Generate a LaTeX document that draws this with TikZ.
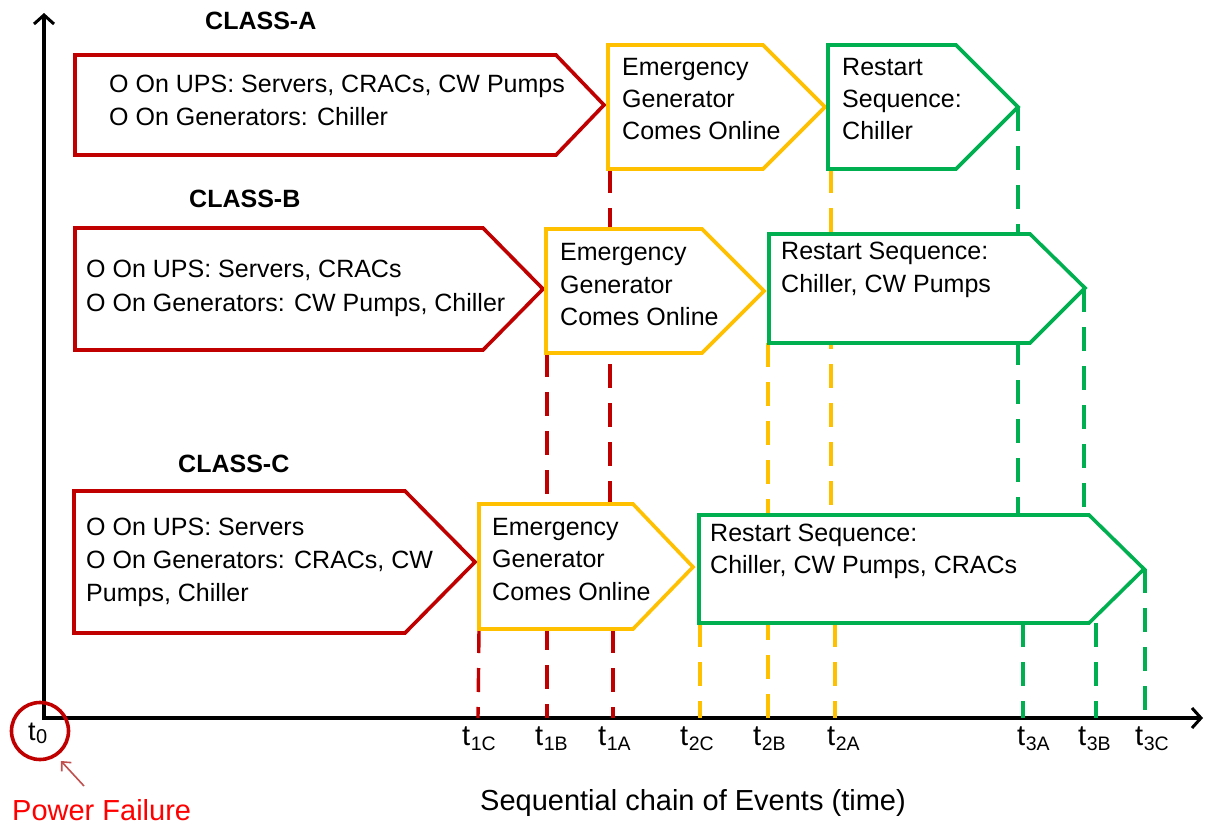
\documentclass[tikz,border=0pt]{standalone}
\usepackage{fontspec}
\setmainfont{Liberation Sans}
\usetikzlibrary{arrows.meta}
\definecolor{boxred}{HTML}{C00000}
\definecolor{boxyellow}{HTML}{FFC000}
\definecolor{boxgreen}{HTML}{00B050}
\definecolor{pfred}{HTML}{FF0000}
\definecolor{pointer}{HTML}{C0504D}
\newcommand{\tsub}[1]{t\kern0.5pt\raisebox{-5pt}{\fontsize{19.5}{20}\selectfont #1}}
\begin{document}
\begin{tikzpicture}[x=1pt,y=-1pt,
  chev/.style={line width=3.6pt, fill=white, line join=miter},
  guide/.style={line width=3.4pt, dash pattern=on 24pt off 15pt},
  txt/.style={font=\fontsize{25}{30}\selectfont, anchor=base west, inner sep=0pt},
  classlbl/.style={font=\fontsize{25}{30}\selectfont\bfseries, anchor=base west, inner sep=0pt},
  ticklbl/.style={font=\fontsize{29}{30}\selectfont, anchor=base west, inner sep=0pt},
  axis/.style={line width=3.4pt, {Straight Barb[length=9pt,width=20pt,line width=3pt]}-{Straight Barb[length=9pt,width=20pt,line width=3pt]}}]
\useasboundingbox (0,0) rectangle (1210,827);

% time axes
\coordinate (ytop) at (44,13);
\coordinate (origin) at (44,718);
\coordinate (xend) at (1203,718);
\draw[axis] (ytop) -- (origin) -- (xend);

% event guides down to the time axis
\begin{scope}[guide]
  \draw[boxred] (479,629) -- (478,718);
  \draw[boxred] (547,353) -- (547,718);
  \draw[boxred] (610,169) -- (610,504);
  \draw[boxred] (613,629) -- (613,718);
  \draw[boxyellow] (700,623) -- (700,718);
  \draw[boxyellow] (768,343) -- (768,718);
  \draw[boxyellow] (831,169) -- (831,515);
  \draw[boxyellow] (835,623) -- (835,718);
  \draw[boxgreen] (1018,107) -- (1018,515);
  \draw[boxgreen] (1023,623) -- (1023,718);
  \draw[boxgreen] (1084,288) -- (1084,515);
  \draw[boxgreen] (1096,623) -- (1096,718);
  \draw[boxgreen] (1145,569) -- (1145,718);
\end{scope}

% CLASS-A
\node[classlbl] (clA) at (205,29) {CLASS-A};
\draw[chev, draw=boxred] (75,55) -- (556,55) -- (604,105) -- (556,155) -- (75,155) -- cycle;
\draw[chev, draw=boxyellow] (608,45) -- (763,45) -- (825,107) -- (763,169) -- (608,169) -- cycle;
\draw[chev, draw=boxgreen] (828,45) -- (956,45) -- (1018,107) -- (956,169) -- (828,169) -- cycle;
\node[txt] (rA1) at (109,92) {O On UPS: Servers, CRACs, CW Pumps};
\node[txt] (rA2) at (109,125) {O On Generators: Chiller};
\node[txt] (yA1) at (622,75) {Emergency};
\node[txt] (yA2) at (622,107) {Generator};
\node[txt] (yA3) at (622,139) {Comes Online};
\node[txt] (gA1) at (842,75) {Restart};
\node[txt] (gA2) at (842,107) {Sequence:};
\node[txt] (gA3) at (842,139) {Chiller};

% CLASS-B
\node[classlbl] (clB) at (189,207) {CLASS-B};
\draw[chev, draw=boxred] (75,228) -- (483,228) -- (543,289) -- (483,350) -- (75,350) -- cycle;
\draw[chev, draw=boxyellow] (546,229) -- (702,229) -- (764,291) -- (702,353) -- (546,353) -- cycle;
\draw[chev, draw=boxgreen] (769,234) -- (1030,234) -- (1085,288) -- (1030,343) -- (769,343) -- cycle;
\node[txt] (rB1) at (86,277) {O On UPS: Servers, CRACs};
\node[txt] (rB2) at (86,311) {O On Generators: CW Pumps, Chiller};
\node[txt] (yB1) at (560,260) {Emergency};
\node[txt] (yB2) at (560,293) {Generator};
\node[txt] (yB3) at (560,325) {Comes Online};
\node[txt] (gB1) at (781,259) {Restart Sequence:};
\node[txt] (gB2) at (781,292) {Chiller, CW Pumps};

% CLASS-C
\node[classlbl] (clC) at (178,472) {CLASS-C};
\draw[chev, draw=boxred] (74,491) -- (405,491) -- (475,562) -- (405,633) -- (74,633) -- cycle;
\draw[chev, draw=boxyellow] (479,504) -- (633,504) -- (693,567) -- (633,629) -- (479,629) -- cycle;
\draw[chev, draw=boxgreen] (699,515) -- (1089,515) -- (1144,569) -- (1089,623) -- (699,623) -- cycle;
\node[txt] (rC1) at (86,535) {O On UPS: Servers};
\node[txt] (rC2) at (86,568) {O On Generators: CRACs, CW};
\node[txt] (rC3) at (86,601) {Pumps, Chiller};
\node[txt] (yC1) at (492,535) {Emergency};
\node[txt] (yC2) at (492,567) {Generator};
\node[txt] (yC3) at (492,600) {Comes Online};
\node[txt] (gC1) at (710,541) {Restart Sequence:};
\node[txt] (gC2) at (710,573) {Chiller, CW Pumps, CRACs};

% time stamps
\node[ticklbl] (t1C) at (462,745) {\tsub{1C}};
\node[ticklbl] (t1B) at (535,745) {\tsub{1B}};
\node[ticklbl] (t1A) at (598,745) {\tsub{1A}};
\node[ticklbl] (t2C) at (680,745) {\tsub{2C}};
\node[ticklbl] (t2B) at (753,745) {\tsub{2B}};
\node[ticklbl] (t2A) at (827,745) {\tsub{2A}};
\node[ticklbl] (t3A) at (1017,745) {\tsub{3A}};
\node[ticklbl] (t3B) at (1078,745) {\tsub{3B}};
\node[ticklbl] (t3C) at (1135,745) {\tsub{3C}};

% power failure at t0
\node[circle, draw=boxred, line width=3.6pt, minimum size=57pt, inner sep=0pt] (t0ring) at (40,731) {};
\node[font=\fontsize{27}{30}\selectfont, anchor=base west, inner sep=0pt] (t0) at (28,740) {t\kern0.5pt\raisebox{-3pt}{\fontsize{20}{20}\selectfont 0}};
\coordinate (pftail) at (84,786);
\coordinate (pftip) at (61,761);
\draw[pointer, line width=1.6pt, -{Straight Barb[length=7pt,width=13pt,line width=1.6pt]}] (pftail) -- (pftip);
\node[font=\fontsize{29}{30}\selectfont, text=pfred, anchor=base west, inner sep=0pt] (pf) at (12,820) {Power Failure};
\node[font=\fontsize{29}{30}\selectfont, anchor=base west, inner sep=0pt] (xlabel) at (480,810) {Sequential chain of Events (time)};
\end{tikzpicture}
\end{document}
